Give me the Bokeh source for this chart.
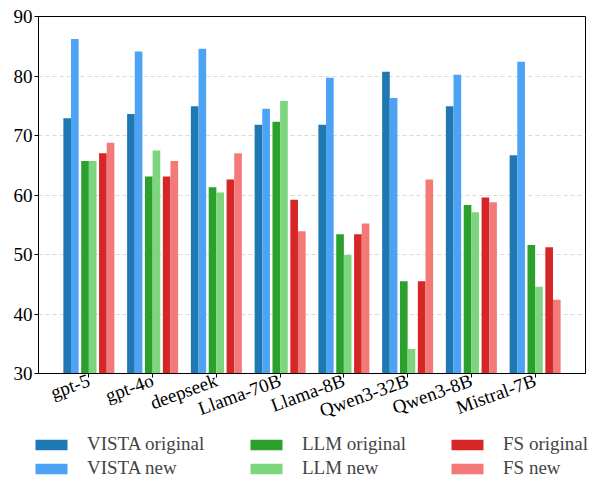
from bokeh.plotting import figure
from bokeh.models import ColumnDataSource, Range1d, FixedTicker, Legend, LegendItem
from bokeh.embed import file_html
from bokeh.resources import INLINE
import math

models = ["gpt-5", "gpt-4o", "deepseek", "Llama-70B", "Llama-8B", "Qwen3-32B", "Qwen3-8B", "Mistral-7B"]
vista_original = [72.9, 73.6, 74.9, 71.8, 71.8, 80.7, 74.9, 66.7]
vista_new = [86.2, 84.1, 84.6, 74.5, 79.7, 76.3, 80.2, 82.4]
llm_original = [65.7, 63.1, 61.3, 72.3, 53.4, 45.5, 58.3, 51.6]
llm_new = [65.7, 67.5, 60.4, 75.8, 49.9, 34.1, 57.1, 44.6]
fs_original = [67.0, 63.1, 62.6, 59.2, 53.4, 45.5, 59.6, 51.2]
fs_new = [68.8, 65.7, 67.0, 53.9, 55.2, 62.6, 58.8, 42.4]

series = [
    ("VISTA original", vista_original, "#1f77b4", -0.34),
    ("VISTA new", vista_new, "#4da3f3", -0.22),
    ("LLM original", llm_original, "#2ca02c", -0.06),
    ("LLM new", llm_new, "#7dd67d", 0.06),
    ("FS original", fs_original, "#d62728", 0.22),
    ("FS new", fs_new, "#f47a7a", 0.34),
]

FONT = "Liberation Serif"

p = figure(width=592, height=433, output_backend="svg", toolbar_location=None,
           x_range=Range1d(-0.79, 7.79), y_range=Range1d(30, 90),
           min_border_left=38, min_border_top=16, min_border_right=7, min_border_bottom=56)

for name, vals, color, off in series:
    src = ColumnDataSource(dict(x=[i + off for i in range(len(models))], top=vals))
    p.vbar(x="x", top="top", bottom=0, width=0.12, source=src, fill_color=color, line_color=None)

p.xaxis.ticker = FixedTicker(ticks=list(range(len(models))))
p.xaxis.major_label_overrides = {i: m for i, m in enumerate(models)}
p.xaxis.major_label_orientation = math.radians(20)
p.yaxis.ticker = FixedTicker(ticks=[30, 40, 50, 60, 70, 80, 90])

for ax in [p.xaxis[0], p.yaxis[0]]:
    ax.major_label_text_font = FONT
    ax.major_label_text_font_size = "19px"
    ax.major_label_text_color = "black"
    ax.axis_line_color = "black"
    ax.major_tick_line_color = "black"
    ax.minor_tick_line_color = None
    ax.major_tick_in = 0
    ax.major_tick_out = 4
    ax.major_label_standoff = 2

p.xgrid.grid_line_color = None
p.ygrid.grid_line_color = "#d9d9d9"
p.ygrid.grid_line_dash = "4 3"
p.outline_line_color = "black"
p.outline_line_width = 1

# legend strip below the chart (separate root, so no frame alignment/clipping)
lg = figure(width=592, height=46, output_backend="svg", toolbar_location=None,
            x_axis_type=None, y_axis_type=None,
            min_border_left=0, min_border_right=0, min_border_top=0, min_border_bottom=0,
            x_range=Range1d(0, 1), y_range=Range1d(0, 1))
lg.outline_line_color = None
legend_x = [31, 246, 447]
for k in range(3):
    pair = series[2 * k: 2 * k + 2]
    items = []
    for name, _, color, _ in pair:
        r = lg.vbar(x=[5], top=[5], width=0.1, fill_color=color, line_color=None)
        items.append(LegendItem(label=name, renderers=[r]))
    leg = Legend(items=items, orientation="vertical", location=(legend_x[k], 0),
                 label_text_font=FONT, label_text_font_size="19px",
                 glyph_width=40, glyph_height=13, label_standoff=16,
                 spacing=2, padding=0, margin=0, border_line_color=None,
                 background_fill_alpha=0)
    lg.add_layout(leg, "center")

open("out.html", "w").write(file_html([p, lg], INLINE))
